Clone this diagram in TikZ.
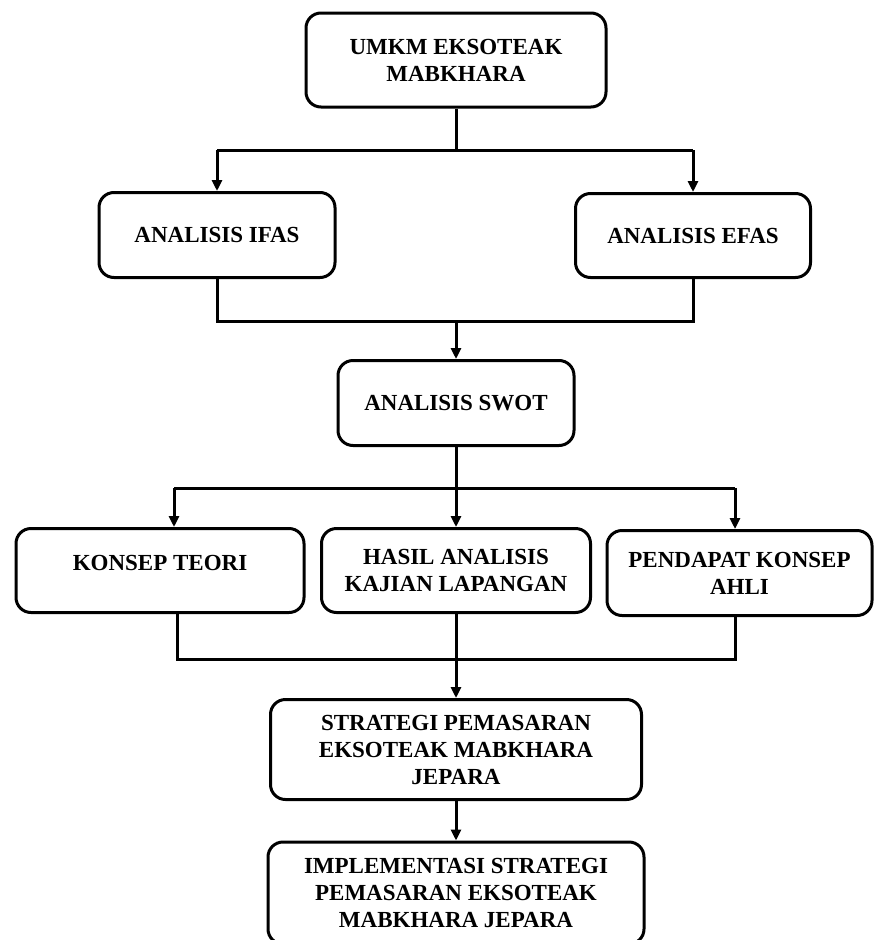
\documentclass[tikz,border=0pt]{standalone}
\usepackage{fontspec}
\setmainfont{Liberation Serif}
\usetikzlibrary{arrows.meta}
\begin{document}
\begin{tikzpicture}[x=1pt,y=-1pt,
  box/.style={draw, line width=3pt, rounded corners=15pt, align=center,
    font=\bfseries\fontsize{23}{27}\selectfont, inner sep=0pt, fill=white},
  conn/.style={line width=3pt},
  arr/.style={conn, -{Triangle[length=11pt,width=10pt]}}]
\useasboundingbox (0,0) rectangle (875,940);
\fill[white] (0,0) rectangle (875,940);

\node[box, minimum width=300pt, minimum height=94pt] (top) at (456,60) {UMKM EKSOTEAK\\MABKHARA};
\node[box, minimum width=236pt, minimum height=85pt] (ifas) at (217,235) {ANALISIS IFAS};
\node[box, minimum width=235pt, minimum height=84pt] (efas) at (693,235.5) {ANALISIS EFAS};
\node[box, minimum width=236pt, minimum height=85pt] (swot) at (456,403) {ANALISIS SWOT};
\node[box, minimum width=288pt, minimum height=84pt, text depth=16pt] (konsep) at (160,570.5) {KONSEP TEORI};
\node[box, minimum width=269pt, minimum height=84pt] (hasil) at (456,570.5) {HASIL ANALISIS\\KAJIAN LAPANGAN};
\node[box, minimum width=265pt, minimum height=85pt] (pendapat) at (739.5,573) {PENDAPAT KONSEP\\AHLI};
\node[box, minimum width=371pt, minimum height=100pt] (strategi) at (456,749.5) {STRATEGI PEMASARAN\\EKSOTEAK MABKHARA\\JEPARA};
\node[box, minimum width=376pt, minimum height=102pt] (impl) at (456,893) {IMPLEMENTASI STRATEGI\\PEMASARAN EKSOTEAK\\MABKHARA JEPARA};

\coordinate (j1) at (456,150);
\coordinate (j1l) at (217,150);
\coordinate (j1r) at (693,150);
\coordinate (m1) at (456,321);
\coordinate (m1l) at (217,321);
\coordinate (m1r) at (693,321);
\coordinate (j2) at (456,488);
\coordinate (j2l) at (174,488);
\coordinate (j2r) at (735,488);
\coordinate (m2l) at (177,659);
\coordinate (m2r) at (735,659);

\draw[conn] (top) -- (j1);
\draw[conn] (j1l) -- (j1r);
\draw[arr] (j1l) -- (ifas);
\draw[arr] (j1r) -- (efas);
\draw[conn] (ifas) -- (m1l) -- (m1r) -- (efas);
\draw[arr] (m1) -- (swot);
\draw[conn] (swot) -- (j2);
\draw[conn] (j2l) -- (j2r);
\draw[arr] (j2l) -- (j2l |- konsep.north);
\draw[arr] (j2) -- (hasil);
\draw[arr] (j2r) -- (j2r |- pendapat.north);
\draw[conn] (m2l |- konsep.south) -- (m2l) -- (m2r) -- (m2r |- pendapat.south);
\draw[arr] (hasil) -- (strategi);
\draw[arr] (strategi) -- (impl);
\end{tikzpicture}
\end{document}
